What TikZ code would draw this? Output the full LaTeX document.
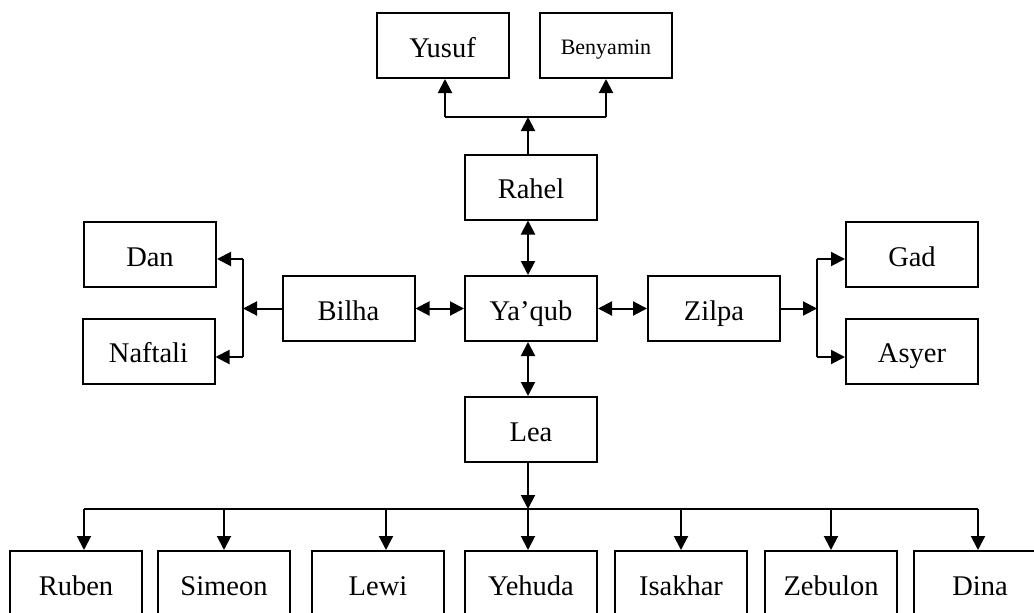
\documentclass[tikz,border=0pt]{standalone}
\usepackage{fontspec}
\setmainfont{Liberation Serif}
\usetikzlibrary{arrows.meta,calc}
\tikzset{
  box/.style={draw, line width=2pt, minimum width=132pt, minimum height=65pt, inner sep=0pt, text height=26pt, text depth=3pt, font=\fontsize{28.5}{33}\selectfont},
  small/.style={text height=20pt, text depth=3pt, font=\fontsize{22}{26}\selectfont},
  con/.style={line width=2pt, -{Triangle[length=14pt,width=14pt]}},
  dcon/.style={line width=2pt, {Triangle[length=14pt,width=14pt]}-{Triangle[length=14pt,width=14pt]}},
  plain/.style={line width=2pt}
}
\begin{document}
\begin{tikzpicture}[x=1pt,y=-1pt]
\useasboundingbox (0,0) rectangle (1034,613);
\clip (0,0) rectangle (1034,613);
% nodes
\node[box] (yusuf) at (442.5,45.5) {Yusuf};
\node[box, small] (benyamin) at (606,45.5) {Benyamin};
\node[box] (rahel) at (531,187) {Rahel};
\node[box] (yaqub) at (531,308.5) {Ya’qub};
\node[box] (bilha) at (348.5,308.5) {Bilha};
\node[box] (zilpa) at (714,308.5) {Zilpa};
\node[box] (dan) at (150,254.5) {Dan};
\node[box] (naftali) at (148.5,351) {Naftali};
\node[box] (gad) at (912,254.5) {Gad};
\node[box] (asyer) at (912,351) {Asyer};
\node[box] (lea) at (531,429.5) {Lea};
\node[box] (ruben) at (76,583.5) {Ruben};
\node[box] (simeon) at (224,583.5) {Simeon};
\node[box] (lewi) at (378,583.5) {Lewi};
\node[box] (yehuda) at (531,583.5) {Yehuda};
\node[box] (isakhar) at (681,583.5) {Isakhar};
\node[box] (zebulon) at (831,583.5) {Zebulon};
\node[box] (dina) at (980,583.5) {Dina};
% junction coordinates
\coordinate (rj) at (528,117);
\coordinate (rjl) at (445,117);
\coordinate (rjr) at (606,117);
\coordinate (bj) at (243,308.5);
\coordinate (bjt) at (243,259);
\coordinate (bjb) at (243,357);
\coordinate (zj) at (817,308.5);
\coordinate (zjt) at (817,259);
\coordinate (zjb) at (817,357);
\coordinate (lj) at (528,509);
\coordinate (ljl) at (84,509);
\coordinate (ljr) at (978,509);
% Rahel branch
\draw[con] (rahel.north -| rj) -- (rj);
\draw[plain] (rjl) -- (rjr);
\draw[con] (rjl) -- (yusuf.south -| rjl);
\draw[con] (rjr) -- (benyamin.south -| rjr);
% central double arrows
\draw[dcon] (rahel.south -| rj) -- (yaqub.north -| rj);
\draw[dcon] (yaqub.south -| rj) -- (lea.north -| rj);
\draw[dcon] (bilha.east) -- (yaqub.west);
\draw[dcon] (yaqub.east) -- (zilpa.west);
% Bilha branch
\draw[con] (bilha.west) -- (bj);
\draw[plain] (bjt) -- (bjb);
\draw[con] (bjt) -- (dan.east |- bjt);
\draw[con] (bjb) -- (naftali.east |- bjb);
% Zilpa branch
\draw[con] (zilpa.east) -- (zj);
\draw[plain] (zjt) -- (zjb);
\draw[con] (zjt) -- (gad.west |- zjt);
\draw[con] (zjb) -- (asyer.west |- zjb);
% Lea branch
\draw[con] (lea.south -| lj) -- (lj);
\draw[plain] (ljl) -- (ljr);
\draw[con] (ljl) -- (ruben.north -| ljl);
\draw[con] (simeon.north |- lj) -- (simeon.north);
\draw[con] ($(lewi.north |- lj)+(8,0)$) -- ($(lewi.north)+(8,0)$);
\draw[con] (lj) -- (yehuda.north -| lj);
\draw[con] (isakhar.north |- lj) -- (isakhar.north);
\draw[con] (zebulon.north |- lj) -- (zebulon.north);
\draw[con] (ljr) -- (dina.north -| ljr);
\end{tikzpicture}
\end{document}
